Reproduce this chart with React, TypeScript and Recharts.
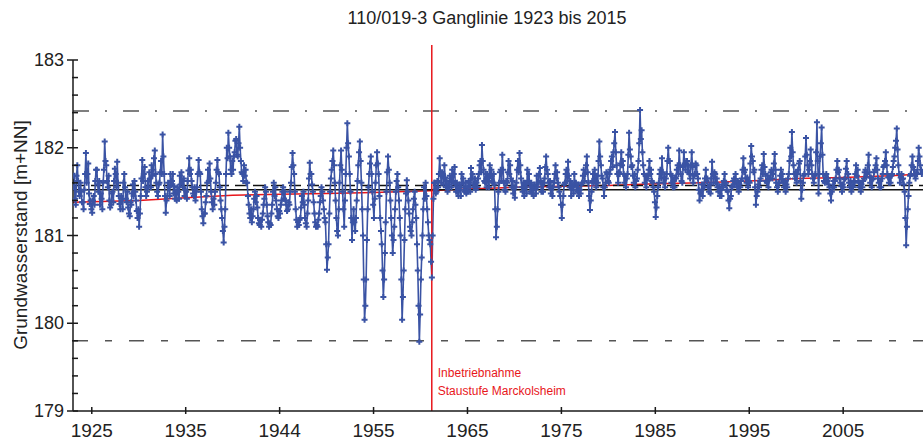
import React from 'react';
import { LineChart, Line, XAxis, YAxis, ReferenceLine, Label } from 'recharts';

// Groundwater level [m+NN], monthly readings, one row per year
const levels1923to1929 = [
  181.55, 181.68, 181.42, 181.35, 181.68, 181.8, 181.62, 181.5, 181.45, 181.6, 181.5, 181.38,
  181.38, 181.3, 181.52, 181.7, 181.94, 181.6, 181.7, 181.82, 181.48, 181.36, 181.4, 181.3,
  181.26, 181.4, 181.45, 181.35, 181.62, 181.75, 181.75, 181.58, 181.5, 181.62, 181.35, 181.48,
  181.42, 181.3, 181.6, 181.75, 182.07, 181.85, 181.8, 181.62, 181.55, 181.68, 181.4, 181.32,
  181.35, 181.48, 181.5, 181.38, 181.62, 181.76, 181.7, 181.55, 181.84, 181.6, 181.45, 181.36,
  181.3, 181.45, 181.42, 181.3, 181.6, 181.7, 181.55, 181.42, 181.38, 181.5, 181.32, 181.25,
  181.22, 181.38, 181.35, 181.48, 181.58, 181.45, 181.62, 181.5, 181.4, 181.28, 181.2, 181.3,
];
const levels1930s = [
  181.1, 181.25, 181.45, 181.65, 181.86, 181.62, 181.7, 181.78, 181.55, 181.45, 181.5, 181.62,
  181.55, 181.72, 181.65, 181.55, 181.8, 181.68, 181.75, 181.88, 181.97, 181.7, 181.6, 181.5,
  181.45, 181.58, 181.6, 181.72, 181.85, 181.7, 182.15, 181.9, 181.7, 181.45, 181.26, 181.4,
  181.45, 181.6, 181.55, 181.45, 181.7, 181.58, 181.62, 181.7, 181.48, 181.56, 181.42, 181.5,
  181.4, 181.55, 181.5, 181.42, 181.68, 181.58, 181.72, 181.62, 181.55, 181.65, 181.45, 181.52,
  181.5, 181.42, 181.62, 181.74, 181.88, 181.7, 181.75, 181.62, 181.55, 181.48, 181.45, 181.55,
  181.4, 181.5, 181.55, 181.7, 181.86, 181.72, 181.7, 181.5, 181.3, 181.22, 181.14, 181.25,
  181.25, 181.38, 181.45, 181.6, 181.75, 181.62, 181.82, 181.65, 181.5, 181.38, 181.3, 181.42,
  181.35, 181.5, 181.6, 181.75, 181.86, 181.72, 181.7, 181.55, 181.4, 181.3, 181.2, 181.05,
  180.92, 181.1, 181.3, 181.7, 182.0, 181.88, 182.17, 182.0, 181.9, 181.75, 181.7, 181.85,
];
const levels1940s = [
  181.75, 181.9, 181.95, 182.08, 182.1, 181.92, 181.9, 182.05, 182.24, 182.0, 181.85, 181.72,
  181.7, 181.62, 181.8, 181.68, 181.75, 181.6, 181.6, 181.45, 181.35, 181.25, 181.2, 181.3,
  181.15, 181.22, 181.3, 181.42, 181.5, 181.38, 181.45, 181.32, 181.2, 181.14, 181.12, 181.18,
  181.1, 181.18, 181.25, 181.35, 181.42, 181.55, 181.5, 181.35, 181.22, 181.15, 181.1, 181.14,
  181.12, 181.25, 181.35, 181.5, 181.6, 181.45, 181.55, 181.4, 181.3, 181.22, 181.2, 181.28,
  181.25, 181.35, 181.4, 181.5, 181.55, 181.42, 181.5, 181.4, 181.35, 181.28, 181.3, 181.38,
  181.35, 181.5, 181.6, 181.78, 181.94, 181.8, 181.7, 181.5, 181.3, 181.18, 181.1, 181.15,
  181.12, 181.18, 181.2, 181.32, 181.45, 181.38, 181.5, 181.35, 181.2, 181.14, 181.1, 181.25,
  181.4, 181.65, 181.83, 181.7, 181.7, 181.58, 181.5, 181.38, 181.25, 181.15, 181.1, 181.12,
  181.1, 181.18, 181.25, 181.38, 181.45, 181.55, 181.5, 181.4, 181.3, 181.2, 181.15, 180.9,
];
const levels1950s = [
  180.61, 180.75, 180.9, 181.25, 181.5, 181.65, 181.75, 181.85, 181.97, 181.8, 181.6, 181.4,
  181.2, 181.05, 181.0, 181.3, 181.6, 181.8, 181.97, 181.75, 181.5, 181.3, 181.1, 181.4,
  181.7, 182.0, 182.28, 182.05, 181.9, 181.7, 181.5, 181.2, 180.95, 181.15, 181.3, 181.15,
  181.05, 181.2, 181.4, 181.62, 181.8, 181.95, 182.07, 181.85, 181.6, 181.3, 181.0, 180.5,
  180.04, 180.2, 180.5, 180.95, 181.3, 181.55, 181.7, 181.82, 181.9, 181.7, 181.5, 181.35,
  181.2, 181.42, 181.6, 181.8, 181.95, 181.82, 181.7, 181.45, 181.2, 181.05, 180.9, 180.6,
  180.3, 180.5, 180.8, 181.15, 181.5, 181.72, 181.9, 181.75, 181.6, 181.4, 181.2, 181.0,
  180.8, 180.95, 181.1, 181.3, 181.5, 181.62, 181.7, 181.55, 181.4, 181.2, 181.0, 180.5,
  180.04, 180.3, 180.6, 180.95, 181.3, 181.48, 181.63, 181.5, 181.4, 181.25, 181.1, 181.05,
  181.0, 181.15, 181.3, 181.42, 181.5, 181.35, 181.2, 180.9, 180.6, 180.2, 179.79, 180.1,
];
const levels1960s = [
  180.5, 180.75, 181.0, 181.3, 181.55, 181.42, 181.6, 181.45, 181.3, 181.15, 181.0, 180.95,
  180.9, 180.7, 180.52, 181.0, 181.42, 181.6, 181.6, 181.48, 181.5, 181.62, 181.55, 181.7,
  181.88, 181.7, 181.6, 181.72, 181.7, 181.58, 181.8, 181.66, 181.55, 181.62, 181.5, 181.58,
  181.55, 181.68, 181.65, 181.55, 181.75, 181.62, 181.7, 181.78, 181.58, 181.5, 181.6, 181.5,
  181.45, 181.58, 181.55, 181.45, 181.7, 181.6, 181.65, 181.52, 181.5, 181.6, 181.48, 181.55,
  181.5, 181.62, 181.6, 181.5, 181.77, 181.65, 181.7, 181.58, 181.55, 181.65, 181.52, 181.6,
  181.55, 181.65, 181.7, 181.8, 181.85, 181.72, 182.03, 181.85, 181.75, 181.62, 181.6, 181.7,
  181.55, 181.7, 181.65, 181.55, 181.8, 181.68, 181.75, 181.62, 181.6, 181.7, 181.58, 181.3,
  180.98, 181.1, 181.3, 181.5, 181.6, 181.72, 181.75, 181.62, 181.92, 181.75, 181.6, 181.52,
  181.5, 181.62, 181.6, 181.72, 181.85, 181.7, 181.8, 181.65, 181.55, 181.62, 181.48, 181.55,
];
const levels1970s = [
  181.43, 181.55, 181.6, 181.75, 181.85, 181.72, 181.94, 181.8, 181.65, 181.55, 181.5, 181.6,
  181.45, 181.6, 181.55, 181.48, 181.75, 181.62, 181.7, 181.58, 181.5, 181.6, 181.48, 181.55,
  181.45, 181.58, 181.55, 181.48, 181.68, 181.55, 181.6, 181.7, 181.77, 181.62, 181.5, 181.58,
  181.5, 181.6, 181.65, 181.78, 181.9, 181.75, 181.7, 181.6, 181.55, 181.62, 181.48, 181.55,
  181.45, 181.55, 181.6, 181.7, 181.8, 181.65, 181.72, 181.6, 181.55, 181.5, 181.45, 181.35,
  181.2, 181.35, 181.45, 181.58, 181.6, 181.7, 181.75, 181.62, 181.84, 181.68, 181.55, 181.62,
  181.45, 181.58, 181.55, 181.48, 181.7, 181.58, 181.6, 181.52, 181.5, 181.58, 181.45, 181.52,
  181.48, 181.58, 181.6, 181.68, 181.75, 181.62, 181.7, 181.8, 181.9, 181.72, 181.6, 181.45,
  181.29, 181.4, 181.5, 181.62, 181.7, 181.6, 181.75, 181.62, 181.55, 181.68, 181.6, 181.85,
  182.07, 181.9, 181.8, 181.68, 181.65, 181.55, 181.45, 181.55, 181.6, 181.72, 181.7, 181.62,
];
const levels1980s = [
  181.6, 181.7, 181.75, 181.85, 181.9, 181.78, 181.95, 182.05, 182.18, 181.95, 181.8, 181.7,
  181.6, 181.72, 181.7, 181.82, 181.95, 181.8, 181.85, 181.7, 181.6, 181.68, 181.55, 181.65,
  181.7, 181.92, 182.17, 181.98, 181.9, 181.78, 181.8, 181.68, 181.6, 181.7, 181.55, 181.62,
  181.65, 181.75, 181.85, 182.05, 182.43, 182.1, 182.2, 181.95, 181.8, 181.7, 181.6, 181.68,
  181.55, 181.68, 181.65, 181.75, 181.85, 181.7, 181.75, 181.62, 181.6, 181.55, 181.5, 181.38,
  181.21, 181.32, 181.45, 181.55, 181.6, 181.7, 181.75, 181.65, 181.88, 181.72, 181.6, 181.66,
  181.55, 181.65, 181.7, 181.85, 182.0, 181.85, 181.85, 181.7, 181.6, 181.68, 181.55, 181.62,
  181.55, 181.66, 181.65, 181.75, 181.8, 181.7, 181.97, 181.8, 181.7, 181.62, 181.6, 181.78,
  181.95, 181.82, 181.75, 181.85, 181.85, 181.72, 181.8, 181.7, 181.65, 181.8, 181.95, 181.78,
  181.6, 181.68, 181.7, 181.82, 181.8, 181.7, 181.65, 181.52, 181.4, 181.48, 181.5, 181.58,
];
const levels1990s = [
  181.45, 181.58, 181.55, 181.65, 181.75, 181.62, 181.65, 181.55, 181.5, 181.58, 181.48, 181.65,
  181.84, 181.7, 181.6, 181.72, 181.7, 181.6, 181.65, 181.55, 181.5, 181.56, 181.45, 181.52,
  181.45, 181.58, 181.55, 181.62, 181.7, 181.58, 181.6, 181.52, 181.5, 181.4, 181.31, 181.42,
  181.45, 181.56, 181.55, 181.62, 181.65, 181.58, 181.7, 181.6, 181.55, 181.62, 181.5, 181.58,
  181.55, 181.62, 181.65, 181.75, 181.88, 181.72, 181.75, 181.65, 181.6, 181.66, 181.55, 181.62,
  181.6, 181.82, 182.02, 181.9, 181.85, 181.72, 181.75, 181.55, 181.35, 181.45, 181.5, 181.58,
  181.55, 181.62, 181.65, 181.75, 181.8, 181.7, 181.93, 181.78, 181.7, 181.62, 181.6, 181.68,
  181.55, 181.64, 181.65, 181.72, 181.75, 181.65, 181.7, 181.82, 181.93, 181.75, 181.6, 181.55,
  181.5, 181.6, 181.6, 181.68, 181.75, 181.64, 181.7, 181.6, 181.55, 181.62, 181.5, 181.58,
  181.55, 181.65, 181.7, 181.85, 182.0, 181.9, 182.18, 181.95, 181.8, 181.7, 181.65, 181.72,
];
const levels2000s = [
  181.6, 181.7, 181.75, 181.82, 181.85, 181.62, 181.42, 181.52, 181.6, 181.68, 181.7, 181.9,
  182.11, 181.92, 181.8, 181.7, 181.75, 181.85, 181.98, 181.8, 181.7, 181.65, 181.6, 181.68,
  181.7, 181.95, 182.29, 181.85, 181.48, 181.7, 181.9, 182.05, 182.23, 181.92, 181.7, 181.62,
  181.6, 181.68, 181.7, 181.62, 181.65, 181.58, 181.55, 181.48, 181.4, 181.5, 181.55, 181.62,
  181.55, 181.62, 181.65, 181.75, 181.85, 181.72, 181.75, 181.65, 181.6, 181.56, 181.5, 181.58,
  181.55, 181.64, 181.65, 181.76, 181.85, 181.7, 181.7, 181.6, 181.55, 181.62, 181.5, 181.56,
  181.55, 181.62, 181.6, 181.7, 181.8, 181.68, 181.75, 181.62, 181.55, 181.6, 181.5, 181.58,
  181.55, 181.62, 181.65, 181.72, 181.75, 181.66, 181.7, 181.8, 181.92, 181.72, 181.6, 181.66,
  181.55, 181.64, 181.65, 181.72, 181.75, 181.8, 181.88, 181.75, 181.65, 181.6, 181.55, 181.62,
  181.55, 181.65, 181.7, 181.78, 181.8, 181.85, 181.95, 181.8, 181.7, 181.66, 181.6, 181.66,
];
const levels2010s = [
  181.6, 181.68, 181.7, 181.78, 181.85, 181.9, 182.0, 182.08, 182.22, 181.98, 181.8, 181.7,
  181.6, 181.66, 181.7, 181.64, 181.65, 181.58, 181.5, 181.2, 180.89, 181.1, 181.3, 181.45,
  181.6, 181.68, 181.7, 181.8, 181.9, 181.78, 181.75, 181.68, 181.65, 181.72, 181.7, 181.85,
  182.0, 181.9, 181.8, 181.75, 181.7, 181.72,
];
const blockStartYears = [1923, 1930, 1940, 1950, 1960, 1970, 1980, 1990, 2000, 2010];
const blocks = [
  levels1923to1929, levels1930s, levels1940s, levels1950s, levels1960s,
  levels1970s, levels1980s, levels1990s, levels2000s, levels2010s,
];

// smoothed trend (red)
const trendYears = [1923, 1930, 1935, 1940, 1945, 1950, 1955, 1961, 1965, 1970, 1975, 1980, 1985, 1990, 1995, 2000, 2005, 2010, 2013.5];
const trendValues = [181.38, 181.4, 181.43, 181.46, 181.47, 181.48, 181.49, 181.51, 181.53, 181.55, 181.56, 181.57, 181.59, 181.6, 181.62, 181.65, 181.66, 181.68, 181.7];

// reference levels
const upperLimit = 182.42;
const lowerLimit = 179.8;
const meanBefore = 181.57;
const meanAll = 181.52;
const damYear = 1961.2;

const xTicks = [1925, 1935, 1945, 1955, 1965, 1975, 1985, 1995, 2005];
const xTickLabels = ['1925', '1935', '1944', '1955', '1965', '1975', '1985', '1995', '2005'];
const yTicks = [179, 179.2, 179.4, 179.6, 179.8, 180, 180.2, 180.4, 180.6, 180.8, 181, 181.2, 181.4, 181.6, 181.8, 182, 182.2, 182.4, 182.6, 182.8, 183];

const BLUE = '#3a53a4';
const RED = '#e8161b';
const AXIS = '#1a1a1a';
const FONT = 'Arial, "Liberation Sans", sans-serif';

const levelData = blocks.flatMap((vals, b) =>
  vals.map((v, i) => ({ t: blockStartYears[b] + (i + 0.5) / 12, level: v }))
);
const trendData = trendYears.map((t, i) => ({ t, trend: trendValues[i] }));

const PlusDot = (props: any) => {
  const { cx, cy } = props;
  if (cx == null || cy == null) return null;
  return (
    <path
      d={`M${cx - 3},${cy}H${cx + 3}M${cx},${cy - 3}V${cy + 3}`}
      stroke={BLUE}
      strokeWidth={2}
      fill="none"
    />
  );
};

const YTick = (props: any) => {
  const { x, y, payload } = props;
  const ax = x + 9;
  const v = payload.value;
  const major = Math.abs(v - Math.round(v)) < 1e-6;
  return (
    <g>
      <line x1={major ? ax - 6 : ax - 1} x2={ax + 5} y1={y} y2={y} stroke={AXIS} strokeWidth={1.5} />
      {major && (
        <text x={x} y={y + 6} textAnchor="end" fontSize={18} fontFamily={FONT} fill="#222">
          {Math.round(v)}
        </text>
      )}
    </g>
  );
};

const XTick = (props: any) => {
  const { x, y, payload } = props;
  const ay = y - 8;
  const idx = xTicks.indexOf(payload.value);
  return (
    <g>
      <line x1={x} x2={x} y1={ay - 4} y2={ay + 3} stroke={AXIS} strokeWidth={1.5} />
      <text x={x} y={ay + 26} textAnchor="middle" fontSize={19} fontFamily={FONT} fill="#222">
        {idx >= 0 ? xTickLabels[idx] : payload.value}
      </text>
    </g>
  );
};

const DamLabel = (props: any) => {
  const { viewBox } = props;
  const x = viewBox.x + 6;
  const bottom = viewBox.y + viewBox.height;
  return (
    <g fill={RED} fontSize={12} fontFamily={FONT}>
      <text x={x} y={bottom - 34}>Inbetriebnahme</text>
      <text x={x} y={bottom - 16}>Staustufe Marckolsheim</text>
    </g>
  );
};

const YLabel = () => (
  <text
    x={20}
    y={235}
    transform="rotate(-90 20 235)"
    textAnchor="middle"
    dominantBaseline="central"
    fontSize={19}
    fontFamily={FONT}
    fill="#222"
  >
    Grundwasserstand [m+NN]
  </text>
);

export default function App() {
  return (
    <div style={{ position: 'absolute', left: 0, top: 0, width: 923, height: 441, background: '#fff', overflow: 'hidden' }}>
      <div
        style={{
          position: 'absolute',
          left: 487,
          top: 8,
          transform: 'translateX(-50%)',
          whiteSpace: 'nowrap',
          fontFamily: FONT,
          fontSize: 18,
          lineHeight: '20px',
          color: '#222',
        }}
      >
        110/019-3 Ganglinie 1923 bis 2015
      </div>
      <LineChart width={923} height={441} margin={{ top: 60, right: 0, bottom: 0, left: 0 }}>
        <XAxis
          type="number"
          dataKey="t"
          domain={[1923, 2013.5]}
          allowDataOverflow
          ticks={xTicks}
          tick={<XTick />}
          tickLine={false}
          tickSize={5}
          tickMargin={3}
          height={30}
          axisLine={{ stroke: AXIS, strokeWidth: 1.5 }}
        />
        <YAxis
          type="number"
          domain={[179, 183]}
          allowDataOverflow
          ticks={yTicks}
          interval={0}
          tick={<YTick />}
          tickLine={false}
          tickSize={6}
          tickMargin={3}
          width={73}
          axisLine={{ stroke: AXIS, strokeWidth: 1.5 }}
        >
          <Label content={<YLabel />} />
        </YAxis>
        <Line
          data={trendData}
          dataKey="trend"
          type="linear"
          stroke={RED}
          strokeWidth={1.5}
          dot={false}
          isAnimationActive={false}
        />
        <ReferenceLine y={upperLimit} stroke="#555" strokeWidth={1.5} strokeDasharray="16 16 2 16" />
        <ReferenceLine y={lowerLimit} stroke="#555" strokeWidth={1.5} strokeDasharray="15 17 7 17" />
        <ReferenceLine y={meanBefore} stroke="#111" strokeWidth={1.5} strokeDasharray="12 6" />
        <ReferenceLine y={meanAll} stroke="#111" strokeWidth={1.5} />
        <Line
          data={levelData}
          dataKey="level"
          type="linear"
          stroke={BLUE}
          strokeWidth={1.6}
          dot={<PlusDot />}
          isAnimationActive={false}
        />
        <ReferenceLine
          segment={[{ x: damYear, y: 179 }, { x: damYear, y: 183.17 }]}
          ifOverflow="visible"
          stroke={RED}
          strokeWidth={1.5}
          label={<DamLabel />}
        />
      </LineChart>
    </div>
  );
}
